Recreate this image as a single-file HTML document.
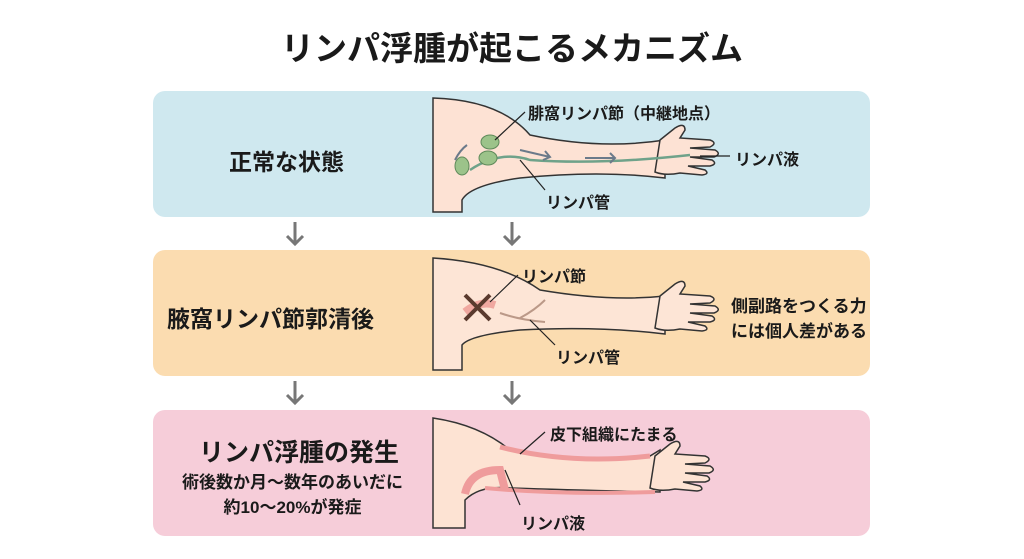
<!DOCTYPE html>
<html><head><meta charset="utf-8"><style>
body{margin:0;width:1024px;height:559px;background:#fff;position:relative;overflow:hidden;font-family:"Liberation Sans","Noto Sans CJK JP",sans-serif;color:#1a1a1a}
.t{position:absolute;white-space:nowrap;font-weight:bold}
.box{position:absolute;left:153px;width:717px;height:126px;border-radius:12px}
</style></head><body>
<div class="t" style="left:0;width:1024px;text-align:center;top:22px;font-size:33px">リンパ浮腫が起こるメカニズム</div>
<div class="box" style="top:91px;background:#cfe8ef"></div>
<div class="box" style="top:250px;background:#fbdcb0"></div>
<div class="box" style="top:410px;background:#f6cdd9"></div>
<svg width="1024" height="559" style="position:absolute;left:0;top:0">
<defs>
<g id="hand">
<path d="M0 0 L15 -12 Q25 -18 25 -10 L20 -2 L50 0 Q58 3 50 7 L30 8 L55 10 Q62 14 54 17 L30 17 L52 20 Q58 24 50 26 L28 26 L45 30 Q50 34 42 35 L20 33 Q5 36 -5 32 Z"/>
</g>
</defs>
<g stroke="#777" stroke-width="3" fill="none">
<path d="M295 222V244M287 236l8 8 8-8"/><path d="M512 222V244M504 236l8 8 8-8"/>
<path d="M295 381V403M287 395l8 8 8-8"/><path d="M512 381V403M504 395l8 8 8-8"/>
</g>
<g stroke="#333" stroke-width="1.5" fill="#fde2d4">
<path d="M433 98 Q500 100 530 135 Q600 150 665 140 L665 178 Q600 170 520 178 Q470 185 462 200 L462 212 L433 212Z"/>
<use href="#hand" x="660" y="140"/>
<path d="M433 258 Q500 262 540 290 Q610 302 665 296 L665 334 Q600 326 520 330 Q470 335 462 345 L462 370 L433 370Z" fill="#fde5d6"/>
<use href="#hand" x="660" y="296" fill="#fde5d6"/>
<path d="M433 418 Q480 425 510 450 Q570 465 650 456 L660 450 L660 492 Q570 490 510 488 Q480 485 465 500 L465 528 L433 528Z" fill="#fde3d3"/>
<use href="#hand" x="655" y="456" fill="#fde3d3"/>
</g>
<path d="M500 447 Q570 465 650 456" stroke="#ef9c9c" stroke-width="5" fill="none"/>
<path d="M465 494 Q470 470 500 470 L505 490" stroke="#ef9c9c" stroke-width="8" fill="none"/>
<path d="M485 488 Q560 495 655 492" stroke="#ef9c9c" stroke-width="4" fill="none"/>
<path d="M465 312 Q480 300 495 305" stroke="#f0a8a0" stroke-width="8" fill="none"/>
<g stroke="#5a3a2e" stroke-width="4"><path d="M465 295 L490 320 M490 295 L465 320"/></g>
<path d="M500 313 Q520 320 545 322 M520 318 Q535 310 545 300" stroke="#b98" stroke-width="2" fill="none"/>
<path d="M470 170 Q500 150 530 160 Q600 165 690 155" stroke="#6fa28a" stroke-width="2.5" fill="none"/>
<g fill="#9cc38a" stroke="#5f8a5a"><ellipse cx="490" cy="142" rx="9" ry="7"/><ellipse cx="488" cy="158" rx="9" ry="7"/><ellipse cx="462" cy="166" rx="7" ry="9"/></g>
<g stroke="#6b7a8a" stroke-width="2" fill="none"><path d="M520 150l30 7M545 151l5 6-7 3"/><path d="M585 158h30M610 153l5 5-5 5"/><path d="M455 160q5-10 12-15"/></g>
<g stroke="#222" stroke-width="1.2"><path d="M495 140L525 112"/><path d="M520 160L545 190"/><path d="M700 156H730"/>
<path d="M490 302L518 275"/><path d="M530 320L555 345"/><path d="M520 454L545 432"/><path d="M505 470L520 505"/></g>
</svg>
<div class="t" style="left:229px;top:143px;font-size:23px">正常な状態</div>
<div class="t" style="left:167px;top:300px;font-size:23px">腋窩リンパ節郭清後</div>
<div class="t" style="left:199px;top:433px;font-size:25px">リンパ浮腫の発生</div>
<div class="t" style="left:182px;top:470px;font-size:17px;line-height:25px;text-align:center">術後数か月〜数年のあいだに<br>約10〜20%が発症</div>
<div class="t" style="left:528px;top:100px;font-size:16px">腓窩リンパ節（中継地点）</div>
<div class="t" style="left:735px;top:146px;font-size:16px">リンパ液</div>
<div class="t" style="left:546px;top:189px;font-size:16px">リンパ管</div>
<div class="t" style="left:522px;top:263px;font-size:16px">リンパ節</div>
<div class="t" style="left:556px;top:344px;font-size:16px">リンパ管</div>
<div class="t" style="left:731px;top:294px;font-size:17px;line-height:25px">側副路をつくる力<br>には個人差がある</div>
<div class="t" style="left:550px;top:421px;font-size:16px">皮下組織にたまる</div>
<div class="t" style="left:521px;top:510px;font-size:16px">リンパ液</div>
</body></html>
